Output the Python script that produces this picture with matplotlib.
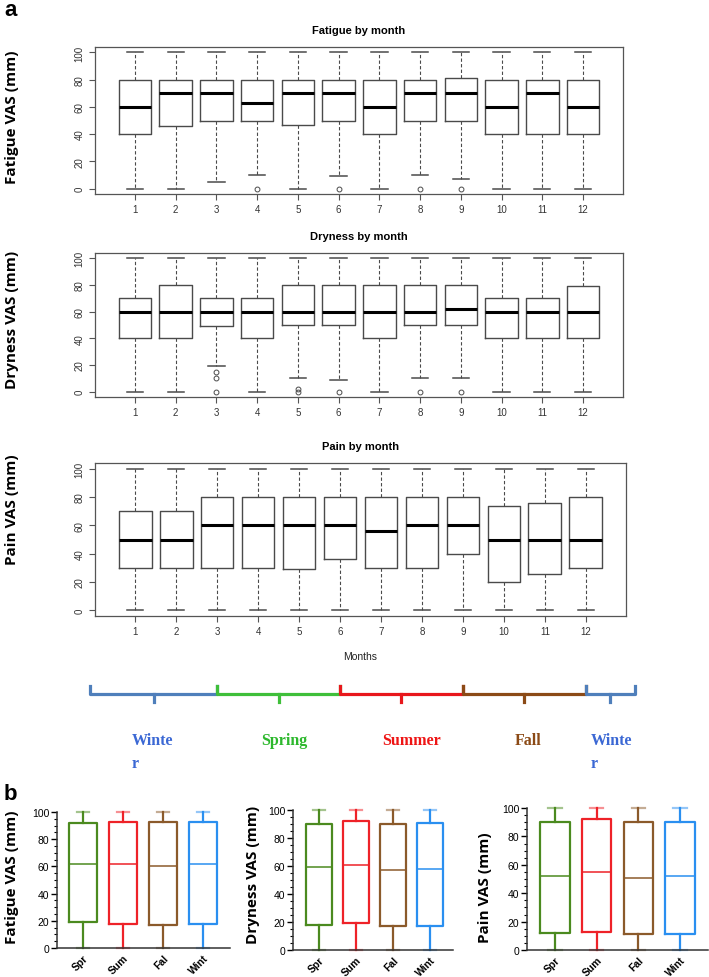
import matplotlib
matplotlib.use('Agg')
import matplotlib.pyplot as plt
from matplotlib.ticker import MultipleLocator

# ---- panel a : monthly box plots ----
months = list(range(1, 13))

fatigue_lo = [0, 0, 5, 10, 0, 9, 0, 10, 7, 0, 0, 0]
fatigue_q1 = [40, 46, 50, 50, 47, 50, 40, 50, 50, 40, 40, 40]
fatigue_med = [60, 70, 70, 63, 70, 70, 60, 70, 70, 60, 70, 60]
fatigue_q3 = [80, 80, 80, 80, 80, 80, 80, 80, 81, 80, 80, 80]
fatigue_hi = [100] * 12
fatigue_out = [[], [], [], [0], [], [0], [], [0], [0], [], [], []]

dry_lo = [0, 0, 19, 0, 10, 9, 0, 10, 10, 0, 0, 0]
dry_q1 = [40, 40, 49, 40, 50, 50, 40, 50, 50, 40, 40, 40]
dry_med = [60, 60, 60, 60, 60, 60, 60, 60, 62, 60, 60, 60]
dry_q3 = [70, 80, 70, 70, 80, 80, 80, 80, 80, 70, 70, 79]
dry_hi = [100] * 12
dry_out = [[], [], [15, 10, 0], [], [0, 2], [0], [], [0], [0], [], [], []]

pain_lo = [0] * 12
pain_q1 = [30, 30, 30, 30, 29, 36, 30, 30, 40, 20, 26, 30]
pain_med = [50, 50, 60, 60, 60, 60, 56, 60, 60, 50, 50, 50]
pain_q3 = [70, 70, 80, 80, 80, 80, 80, 80, 80, 74, 76, 80]
pain_hi = [100] * 12
pain_out = [[]] * 12

# seasons under the month axis
season_labels = ['Winte\nr', 'Spring', 'Summer', 'Fall', 'Winte\nr']
season_start = [-0.1, 3, 6, 9, 12]
season_end = [3, 6, 9, 12, 13.2]
season_label_x = [1.42, 4.65, 7.75, 10.6, 12.62]
bracket_colors = ['#4f7fbb', '#3fbf3a', '#e8171c', '#8b4a16', '#4f7fbb']
season_text_colors = ['#3b68d4', '#2db82d', '#ee1515', '#8b4a16', '#3b68d4']

# ---- panel b : seasonal box plots ----
seasons_b = ['Spr', 'Sum', 'Fal', 'Wint']
b_colors = ['#4b8a1f', '#ee2228', '#8b5a2b', '#2a8ff0']

fat_b_q1 = [19, 18, 17, 18]
fat_b_med = [62, 62, 60, 62]
fat_b_q3 = [92, 93, 93, 93]
dry_b_q1 = [18, 19, 17, 17]
dry_b_med = [59, 61, 57, 58]
dry_b_q3 = [90, 92, 90, 91]
pain_b_q1 = [12, 13, 11, 11]
pain_b_med = [52, 55, 51, 52]
pain_b_q3 = [90, 92, 90, 90]
b_lo = [0, 0, 0, 0]
b_hi = [100, 100, 100, 100]

W, H = 709, 978
fig = plt.figure(figsize=(W / 100, H / 100), dpi=100)


def px_axes(left, top, right, bottom):
    return fig.add_axes([left / W, 1 - bottom / H, (right - left) / W, (bottom - top) / H])


def make_stats(lo, q1, med, q3, hi, out):
    return [dict(whislo=lo[i], q1=q1[i], med=med[i], q3=q3[i], whishi=hi[i], fliers=out[i])
            for i in range(len(med))]


grey = '#4a4a4a'


def month_panel(ax, stats, title):
    ax.bxp(stats, positions=months, widths=0.8, capwidths=0.4,
           boxprops=dict(color=grey, lw=1.0),
           medianprops=dict(color='black', lw=2.2, solid_capstyle='butt'),
           whiskerprops=dict(color=grey, lw=0.8, linestyle=(0, (3, 2))),
           capprops=dict(color=grey, lw=1.1),
           flierprops=dict(marker='o', markersize=3.5, markerfacecolor='none',
                           markeredgecolor=grey, markeredgewidth=0.7))
    ax.set_xlim(0.02, 12.98)
    ax.set_ylim(-4, 104)
    ax.set_xticks(months)
    ax.set_xticklabels([str(m) for m in months])
    ax.set_yticks(range(0, 101, 20))
    for s in ax.spines.values():
        s.set_color('#555555')
        s.set_linewidth(0.9)
    ax.tick_params(direction='out', length=4, color='#555555', labelsize=7,
                   labelcolor='#333333', width=0.8)
    ax.tick_params(axis='y', labelrotation=90)
    for t in ax.get_yticklabels():
        t.set_va('center')
    ax.set_title(title, fontsize=8, fontweight='bold', pad=10)


plt.rcParams['font.family'] = ['Liberation Sans', 'DejaVu Sans']

ax1 = px_axes(95, 48, 623, 195)
month_panel(ax1, make_stats(fatigue_lo, fatigue_q1, fatigue_med, fatigue_q3, fatigue_hi, fatigue_out),
            'Fatigue by month')
ax2 = px_axes(95, 254, 623, 398)
month_panel(ax2, make_stats(dry_lo, dry_q1, dry_med, dry_q3, dry_hi, dry_out), 'Dryness by month')
ax3 = px_axes(95, 464, 626, 617)
month_panel(ax3, make_stats(pain_lo, pain_q1, pain_med, pain_q3, pain_hi, pain_out), 'Pain by month')

fig.text(360 / W, 1 - 657 / H, 'Months', fontsize=7.5, ha='center', va='center', color='#222222')

ylab = dict(rotation=90, ha='center', va='center', fontsize=11, fontweight='bold',
            family='Open Sans')
fig.text(12 / W, 1 - 117 / H, 'Fatigue VAS (mm)', **ylab)
fig.text(12 / W, 1 - 320 / H, 'Dryness VAS (mm)', **ylab)
fig.text(12 / W, 1 - 510 / H, 'Pain VAS (mm)', **ylab)

# season brackets, same x scale as the pain panel
sax = px_axes(95, 670, 626, 790)
sax.set_xlim(ax3.get_xlim())
sax.set_ylim(790, 670)
sax.axis('off')
for i in range(len(season_labels)):
    a, b = season_start[i], season_end[i]
    mid = (a + b) / 2
    c = bracket_colors[i]
    sax.plot([a, a, b, b], [687, 695, 695, 687], color=c, lw=2.3,
             solid_joinstyle='round', clip_on=False)
    sax.plot([mid, mid], [695, 703], color=c, lw=2.3, clip_on=False)
    sax.text(season_label_x[i], 733, season_labels[i], color=season_text_colors[i],
             ha='center', va='top', multialignment='left', fontsize=11.5,
             fontweight='bold', family='Liberation Serif', linespacing=1.6, clip_on=False)

fig.text(4 / W, 1 - 16 / H, 'a', fontsize=16, fontweight='bold', va='baseline')
fig.text(4 / W, 1 - 800 / H, 'b', fontsize=16, fontweight='bold', va='baseline')


# ---- panel b ----
def season_panel(ax, q1, med, q3, xlim, width):
    for i in range(4):
        c = b_colors[i]
        st = [dict(whislo=b_lo[i], q1=q1[i], med=med[i], q3=q3[i], whishi=b_hi[i], fliers=[])]
        ax.bxp(st, positions=[i + 1], widths=width, capwidths=width * 0.45,
               boxprops=dict(color=c, lw=1.6),
               medianprops=dict(color=c, lw=1.1),
               whiskerprops=dict(color=c, lw=1.6),
               capprops=dict(color=c, lw=1.6, alpha=0.5),
               showfliers=False)
    for art in ax.get_children():
        if hasattr(art, 'set_clip_on'):
            art.set_clip_on(False)
    ax.set_xlim(*xlim)
    ax.set_ylim(0, 100)
    ax.set_xticks([1, 2, 3, 4])
    ax.set_xticklabels(seasons_b, rotation=45, ha='right', va='top', rotation_mode='anchor',
                       fontsize=7.5, fontweight='bold')
    ax.set_yticks(range(0, 101, 20))
    ax.yaxis.set_minor_locator(MultipleLocator(5))
    ax.spines['top'].set_visible(False)
    ax.spines['right'].set_visible(False)
    for s in ['left', 'bottom']:
        ax.spines[s].set_color('#333333')
        ax.spines[s].set_linewidth(1.1)
    ax.tick_params(axis='y', which='major', length=4, width=1, labelsize=7.5, pad=1.5)
    ax.tick_params(axis='y', which='minor', length=2, width=0.8)
    ax.tick_params(axis='x', length=0, pad=3)
    ax.set_facecolor('none')


bx1 = px_axes(57, 813, 230, 949)
season_panel(bx1, fat_b_q1, fat_b_med, fat_b_q3, (0.35, 4.675), 0.7)
bx2 = px_axes(293, 811, 453, 951)
season_panel(bx2, dry_b_q1, dry_b_med, dry_b_q3, (0.30, 4.62), 0.68)
bx3 = px_axes(527, 809, 708, 951)
season_panel(bx3, pain_b_q1, pain_b_med, pain_b_q3, (0.33, 4.67), 0.7)

fig.text(12 / W, 1 - 877 / H, 'Fatigue VAS (mm)', **ylab)
fig.text(253 / W, 1 - 875 / H, 'Dryness VAS (mm)', **ylab)
fig.text(485 / W, 1 - 888 / H, 'Pain VAS (mm)', **ylab)

fig.savefig('out.png', dpi=100)
